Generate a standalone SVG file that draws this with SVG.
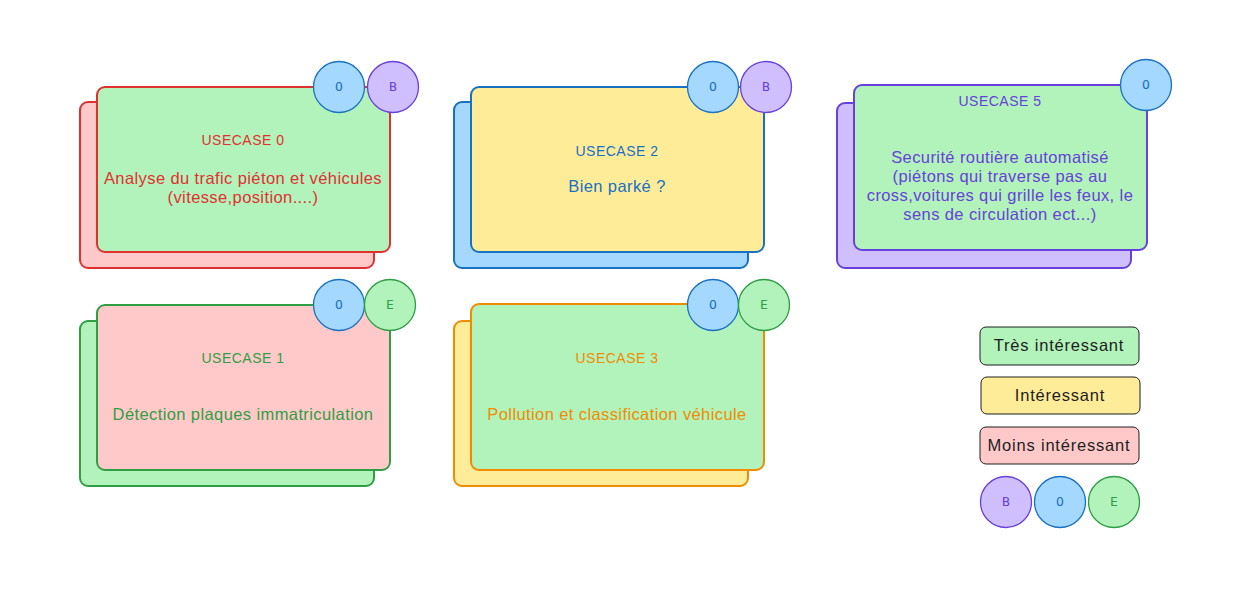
<svg xmlns="http://www.w3.org/2000/svg" width="1240" height="595" viewBox="0 0 1240 595">
<style>
.card{stroke-width:2}
.t{font-family:"Liberation Sans",Arial,sans-serif;text-anchor:middle}
.h{font-size:14px;letter-spacing:0.5px}
.b{font-size:16.5px;letter-spacing:0.4px}
.c{font-family:"DejaVu Sans Mono","Liberation Mono",monospace;font-size:13px;text-anchor:middle}
.lg{font-family:"Liberation Sans",Arial,sans-serif;font-size:16.5px;letter-spacing:0.8px;text-anchor:middle;fill:#1e1e1e}
.cb{fill:#a5d8ff;stroke:#1971c2;stroke-width:1.3}
.cp{fill:#d0bfff;stroke:#6741d9;stroke-width:1.3}
.cg{fill:#b2f2bb;stroke:#2f9e44;stroke-width:1.3}
</style>
<rect width="1240" height="595" fill="#ffffff"/>

<g id="usecase0">
<rect class="card" x="80" y="102" width="294" height="166" rx="8" fill="#ffc9c9" stroke="#e03131"/>
<rect class="card" x="97" y="87" width="293" height="165" rx="8" fill="#b2f2bb" stroke="#e03131"/>
<text class="t h" x="243" y="145" fill="#e03131">USECASE 0</text>
<text class="t b" x="243" y="184" fill="#e03131">Analyse du trafic piéton et véhicules</text>
<text class="t b" x="243" y="203" fill="#e03131">(vitesse,position....)</text>
<circle class="cb" cx="339" cy="87" r="25.5"/>
<text class="c" x="339" y="91" fill="#1971c2">O</text>
<circle class="cp" cx="393" cy="87" r="25.5"/>
<text class="c" x="393" y="91" fill="#6741d9">B</text>
</g>

<g id="usecase2">
<rect class="card" x="454" y="102" width="294" height="166" rx="8" fill="#a5d8ff" stroke="#1971c2"/>
<rect class="card" x="471" y="87" width="293" height="165" rx="8" fill="#ffec99" stroke="#1971c2"/>
<text class="t h" x="617" y="156" fill="#1971c2">USECASE 2</text>
<text class="t b" x="617" y="192" fill="#1971c2">Bien parké ?</text>
<circle class="cb" cx="713" cy="87" r="25.5"/>
<text class="c" x="713" y="91" fill="#1971c2">O</text>
<circle class="cp" cx="766" cy="87" r="25.5"/>
<text class="c" x="766" y="91" fill="#6741d9">B</text>
</g>

<g id="usecase5">
<rect class="card" x="837" y="103" width="294" height="165" rx="8" fill="#d0bfff" stroke="#6741d9"/>
<rect class="card" x="854" y="85" width="293" height="165" rx="8" fill="#b2f2bb" stroke="#6741d9"/>
<text class="t h" x="1000" y="106" fill="#6741d9">USECASE 5</text>
<text class="t b" x="1000" y="163" fill="#6741d9">Securité routière automatisé</text>
<text class="t b" x="1000" y="182" fill="#6741d9">(piétons qui traverse pas au</text>
<text class="t b" x="1000" y="201" fill="#6741d9">cross,voitures qui grille les feux, le</text>
<text class="t b" x="1000" y="220" fill="#6741d9">sens de circulation ect...)</text>
<circle class="cb" cx="1146" cy="85" r="25.5"/>
<text class="c" x="1146" y="89" fill="#1971c2">O</text>
</g>

<g id="usecase1">
<rect class="card" x="80" y="321" width="294" height="165" rx="8" fill="#b2f2bb" stroke="#2f9e44"/>
<rect class="card" x="97" y="305" width="293" height="165" rx="8" fill="#ffc9c9" stroke="#2f9e44"/>
<text class="t h" x="243" y="363" fill="#2f9e44">USECASE 1</text>
<text class="t b" x="243" y="420" fill="#2f9e44">Détection plaques immatriculation</text>
<circle class="cb" cx="339" cy="305" r="25.5"/>
<text class="c" x="339" y="309" fill="#1971c2">O</text>
<circle class="cg" cx="390" cy="305" r="25.5"/>
<text class="c" x="390" y="309" fill="#2f9e44">E</text>
</g>

<g id="usecase3">
<rect class="card" x="454" y="321" width="294" height="165" rx="8" fill="#ffec99" stroke="#f08c00"/>
<rect class="card" x="471" y="304" width="293" height="166" rx="8" fill="#b2f2bb" stroke="#f08c00"/>
<text class="t h" x="617" y="363" fill="#f08c00">USECASE 3</text>
<text class="t b" x="617" y="420" fill="#f08c00">Pollution et classification véhicule</text>
<circle class="cb" cx="713" cy="305" r="25.5"/>
<text class="c" x="713" y="309" fill="#1971c2">O</text>
<circle class="cg" cx="764" cy="305" r="25.5"/>
<text class="c" x="764" y="309" fill="#2f9e44">E</text>
</g>

<g id="legend-tres">
<rect x="980" y="327" width="159" height="38" rx="6" fill="#b2f2bb" stroke="#1e1e1e" stroke-width="1"/>
<text class="lg" x="1059" y="351">Très intéressant</text>
</g>
<g id="legend-interessant">
<rect x="981" y="377" width="159" height="37" rx="6" fill="#ffec99" stroke="#1e1e1e" stroke-width="1"/>
<text class="lg" x="1060" y="401">Intéressant</text>
</g>
<g id="legend-moins">
<rect x="980" y="427" width="159" height="37" rx="6" fill="#ffc9c9" stroke="#1e1e1e" stroke-width="1"/>
<text class="lg" x="1059" y="451">Moins intéressant</text>
</g>
<g id="legend-B">
<circle class="cp" cx="1006" cy="502" r="25.5"/>
<text class="c" x="1006" y="506" fill="#6741d9">B</text>
</g>
<g id="legend-O">
<circle class="cb" cx="1060" cy="502" r="25.5"/>
<text class="c" x="1060" y="506" fill="#1971c2">O</text>
</g>
<g id="legend-E">
<circle class="cg" cx="1114" cy="502" r="25.5"/>
<text class="c" x="1114" y="506" fill="#2f9e44">E</text>
</g>
<g id="connectors"></g>
</svg>
